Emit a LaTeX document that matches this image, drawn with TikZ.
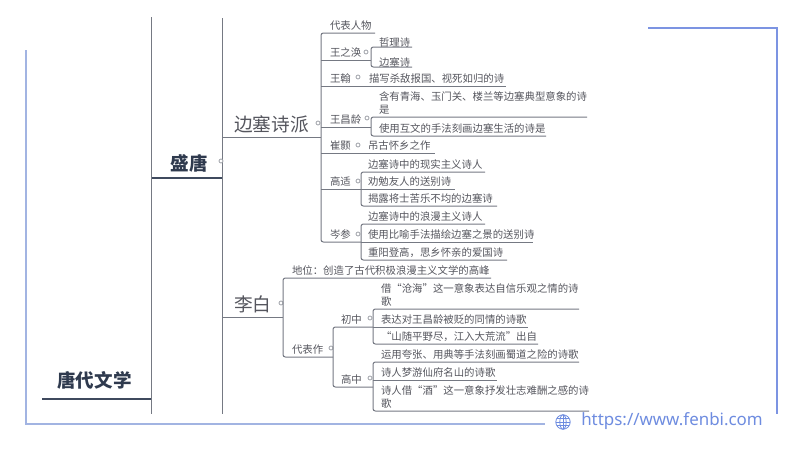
\documentclass[tikz,border=0pt]{standalone}
\usepackage{fontspec}
\setmainfont{Noto Sans CJK SC}
\newfontfamily\urlfont{Noto Sans}
\definecolor{txtc}{HTML}{55565E}
\definecolor{linec}{HTML}{757983}
\definecolor{darkc}{HTML}{3F4A5E}
\definecolor{headc}{HTML}{2F3A4E}
\definecolor{blueA}{HTML}{7C94E2}
\definecolor{blueB}{HTML}{A2B4E2}
\definecolor{urlc}{HTML}{6E8CE0}
\tikzset{
  base/.style={anchor=south west,inner ysep=0pt,outer sep=0pt,align=left,text=txtc},
  small/.style={base,font=\fontsize{7.8}{9.75}\selectfont},
  big/.style={base,font=\fontsize{14}{14.25}\selectfont},
  head/.style={base,align=center,text=headc,inner xsep=0pt},
  ln/.style={draw=linec,line width=.75pt,rounded corners=1.8pt},
  dark/.style={draw=darkc,line width=1pt},
  dot/.style={circle,draw=linec!80,fill=white,line width=.5pt,inner sep=0pt,minimum size=3pt},
}
% name, x, underline y, text offset, width, text
\newcommand\leaf[6]{\pgfmathsetmacro\tw{(#5-2*#4)*.75}%
  \node[small,inner xsep=#4*.75pt,text width=\tw pt] (#1) at (#2,#3) {#6};}
\newcommand\bigleaf[6]{\pgfmathsetmacro\tw{(#5-2*#4)*.75}%
  \node[big,inner xsep=#4*.75pt,text width=\tw pt] (#1) at (#2,#3) {#6};}
\newcommand\ul[1]{\draw[ln] (#1.south west) -- (#1.south east);}
\newcommand\tree[2]{\draw[ln] (#1.south east) -- (#1.south west) -- (#2.south west) -- (#2.south east);}
\begin{document}
\begin{tikzpicture}[x=.75pt,y=-.75pt]
\useasboundingbox (0,0) rectangle (800,450);
\fill[white] (0,0) rectangle (800,450);
% frame
\coordinate (fa) at (26,50); \coordinate (fb) at (26,424); \coordinate (fc) at (545,424);
\coordinate (fd) at (648,28); \coordinate (fe) at (777,28); \coordinate (ff) at (777,414);
\draw[blueB,line width=1.3pt] (fa) -- (fb) -- (fc);
\draw[blueA,line width=1.3pt] (fd) -- (fe) -- (ff);
% globe
\begin{scope}[shift={(563,422)},draw=urlc,line width=.6pt]
\draw (0,0) circle[radius=7.2];
\draw (0,0) ellipse[x radius=3.2,y radius=7.2];
\draw (-7.2,0) -- (7.2,0);
\draw (-6.3,-3.4) -- (6.3,-3.4);
\draw (-6.3,3.4) -- (6.3,3.4);
\draw (0,-7.2) -- (0,7.2);
\end{scope}
\node[anchor=west,inner sep=0pt,text=urlc,font=\urlfont\fontsize{12.7}{15}\selectfont] (url) at (581,421) {https://www.fenbi.com};
% trunk lines
\coordinate (t1) at (151,17); \coordinate (t2) at (151,414);
\coordinate (t3) at (222.5,18); \coordinate (t4) at (222.5,414);
\draw[ln] (t1) -- (t2);
\draw[ln] (t3) -- (t4);
% root + era
\node[head,minimum width=109*.75pt,font=\bfseries\fontsize{13.9}{30}\selectfont] (root) at (42,399) {\strut 唐代文学\hspace*{3pt}};
\draw[dark] (root.south west) -- (root.south east);
\node[head,minimum width=70*.75pt,font=\bfseries\fontsize{13.9}{19.5}\selectfont] (era) at (152,178) {\strut \hspace*{3pt}盛唐};
\draw[dark] (era.south west) -- (era.south east);
\node[dot] (dera) at (221,161) {};
% main branches
\bigleaf{bs}{223}{137}{11}{98}{\strut 边塞诗派}
\ul{bs}
\node[dot] (dbs) at (318,123) {};
\bigleaf{lb}{223}{317}{11}{60}{\strut 李白}
\node[dot] (dlb) at (281,303) {};
% 边塞诗派 children
\leaf{a1}{321}{33}{9}{54}{\strut 代表人物}
\leaf{a2}{321}{60}{9}{50}{\strut 王之涣}
\node[dot] (da2) at (366,52) {};
\leaf{a21}{371}{47}{8}{41}{\strut\raisebox{-2.2pt}{哲理诗}}
\leaf{a22}{371}{67}{8}{41}{\strut\raisebox{-2.2pt}{边塞诗}}
\tree{a21}{a22}
\leaf{a3}{321}{86}{9}{40}{\strut 王翰}
\node[dot] (da3) at (358,77) {};
\leaf{a31}{361}{86}{8}{145}{\strut 描写杀敌报国、视死如归的诗}
\leaf{a4}{321}{127}{9}{50}{\strut 王昌龄}
\node[dot] (da4) at (367,118) {};
\leaf{a41}{371}{117}{8}{216}{\strut 含有青海、玉门关、楼兰等边塞典型意象的诗\\\strut 是}
\leaf{a42}{371}{136}{8}{175}{\strut 使用互文的手法刻画边塞生活的诗是}
\tree{a41}{a42}
\leaf{a5}{321}{153}{9}{40}{\strut 崔颢}
\node[dot] (da5) at (358,145) {};
\leaf{a51}{361}{153}{7}{74}{\strut 吊古怀乡之作}
\leaf{a6}{321}{189}{9}{40}{\strut 高适}
\node[dot] (da6) at (358,181) {};
\leaf{a61}{361}{172}{7}{124}{\strut 边塞诗中的现实主义诗人}
\leaf{a62}{361}{189}{7}{94}{\strut 劝勉友人的送别诗}
\leaf{a63}{361}{206}{7}{136}{\strut 揭露将士苦乐不均的边塞诗}
\tree{a61}{a63}
\leaf{a7}{321}{242}{9}{40}{\strut 岑参}
\node[dot] (da7) at (358,234) {};
\leaf{a71}{361}{224}{7}{124}{\strut 边塞诗中的浪漫主义诗人}
\leaf{a72}{361}{242}{7}{172}{\strut 使用比喻手法描绘边塞之景的送别诗}
\leaf{a73}{361}{260}{7}{146}{\strut 重阳登高，思乡怀亲的爱国诗}
\tree{a71}{a73}
\tree{a1}{a7}
\ul{a2}\ul{a3}\ul{a31}\ul{a4}\ul{a5}\ul{a51}\ul{a6}\ul{a62}\ul{a72}
% 李白 children
\leaf{b1}{283}{278}{9}{208}{\strut 地位：创造了古代积极浪漫主义文学的高峰}
\leaf{b2}{283}{357}{9}{50}{\strut 代表作}
\node[dot] (db2) at (331,348) {};
\tree{b1}{b2}
\ul{lb}
\leaf{c1}{333}{327}{8}{40}{\strut 初中}
\leaf{c2}{333}{387}{8}{40}{\strut 高中}
\node[dot] (dc1) at (370,318) {};
\node[dot] (dc2) at (370,378) {};
\tree{c1}{c2}
\leaf{d1}{373}{309}{8}{206}{\strut 借“沧海”这一意象表达自信乐观之情的诗\\\strut 歌}
\leaf{d2}{373}{327}{8}{155}{\strut 表达对王昌龄被贬的同情的诗歌}
\leaf{d3}{373}{344}{8}{165}{\strut “山随平野尽，江入大荒流”出自}
\tree{d1}{d3}
\ul{d2}
\leaf{e1}{373}{362}{8}{206}{\strut 运用夸张、用典等手法刻画蜀道之险的诗歌}
\leaf{e2}{373}{380}{8}{124}{\strut 诗人梦游仙府名山的诗歌}
\leaf{e3}{373}{411}{8}{216}{\strut 诗人借“酒”这一意象抒发壮志难酬之感的诗\\\strut 歌}
\tree{e1}{e3}
\ul{e2}
\end{tikzpicture}
\end{document}
